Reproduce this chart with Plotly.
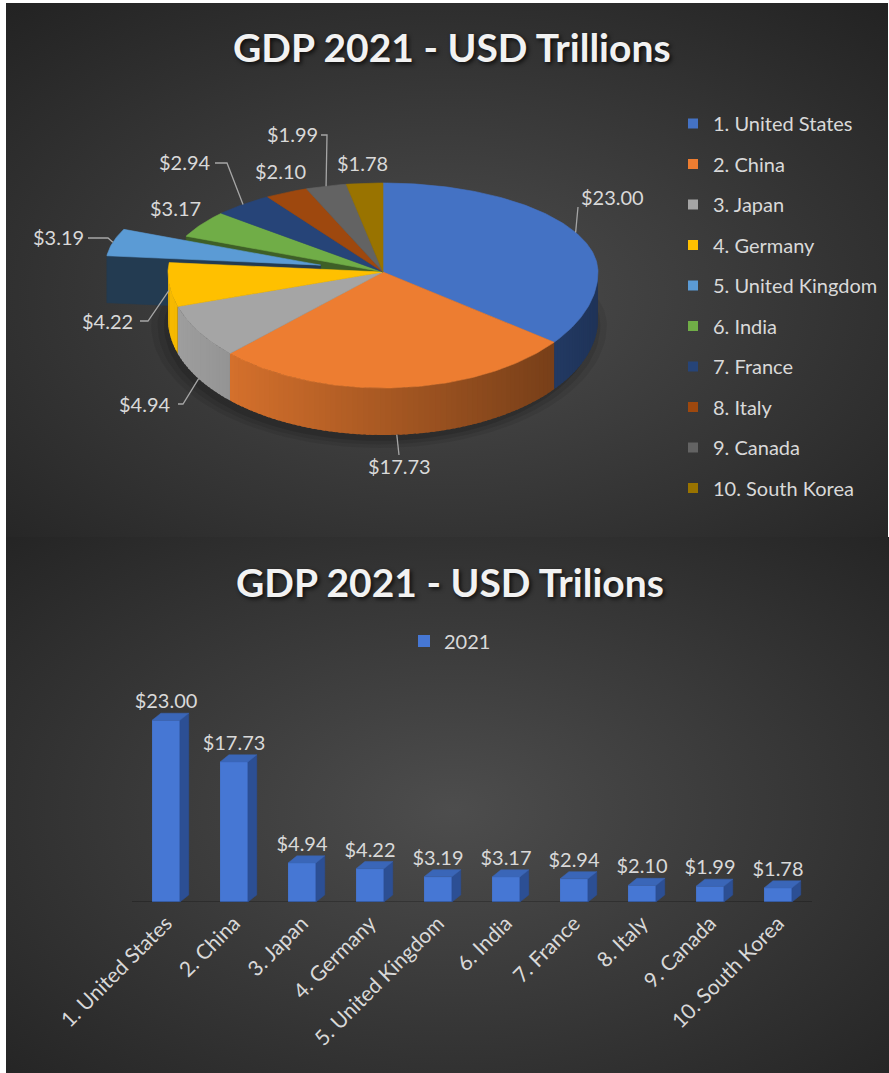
import base64
import numpy as np
import plotly.graph_objects as go

# ---------------- data ----------------
countries = [
    "1. United States", "2. China", "3. Japan", "4. Germany", "5. United Kingdom",
    "6. India", "7. France", "8. Italy", "9. Canada", "10. South Korea",
]
gdp_2021 = [23.00, 17.73, 4.94, 4.22, 3.19, 3.17, 2.94, 2.10, 1.99, 1.78]
series_name = "2021"
pie_title = "GDP 2021 - USD Trillions"
bar_title = "GDP 2021 - USD Trilions"

# ---------------- styling ----------------
slice_colors = ["#4472C4", "#ED7D31", "#A5A5A5", "#FFC000", "#5B9BD5",
                "#70AD47", "#264478", "#9E480E", "#636363", "#997300"]
slice_pull = [0, 0, 0, 0, 0.3, 0, 0, 0, 0, 0]

W, H = 889, 1073
FONT = "Lato, 'Open Sans', sans-serif"
LABEL_GRAY = "#d9d9d9"
TITLE_WHITE = "#f2f2f2"
LEADER_GRAY = "#a6a6a6"

# pie label placement (pixel space): label centre, leader start, elbow length, drop onto side wall
pie_label_xy = [(612, 197), (399, 466), (145, 404), (107, 321), (58, 237),
                (175, 208), (185, 162), (280, 171), (292, 134), (362, 163)]
pie_leader_start = [(578, 207), (399, 455), (178, 404), (140, 321), (88, 238),
                    None, (215, 163), None, (321, 135), None]
pie_leader_elbow = [0, 0, 5, 8, 20, 0, 12, 0, 6, 0]
pie_leader_drop = [0, 1, 1, 0.15, 0, 0, 0, 0, 0, 0]


def yp(py):
    return 1 - py / H


def shade(hex_color, f):
    h = hex_color.lstrip("#")
    r, g, b = (int(h[k:k + 2], 16) for k in (0, 2, 4))

    def c(v):
        return int(max(0, min(255, round(v * f))))
    return f"rgb({c(r)},{c(g)},{c(b)})"


def radial_bg(inner, outer, cy="50%"):
    svg = (
        '<svg xmlns="http://www.w3.org/2000/svg" width="100" height="100" '
        'viewBox="0 0 100 100" preserveAspectRatio="none">'
        f'<defs><radialGradient id="g" cx="50%" cy="{cy}" r="75%">'
        f'<stop offset="0" stop-color="{inner}"/>'
        f'<stop offset="1" stop-color="{outer}"/></radialGradient></defs>'
        '<rect width="100" height="100" fill="url(#g)"/></svg>'
    )
    return "data:image/svg+xml;base64," + base64.b64encode(svg.encode()).decode()


# ---------------- 3D pie geometry (pixel space) ----------------
CX, CY = 383, 272
RX, RY_BACK, RY_FRONT = 215, 89, 116
DEPTH = 47


def proj(theta, r=1.0):
    t = np.radians(np.asarray(theta, dtype=float))
    X = np.sin(t) * r
    Z = -np.cos(t) * r
    ry = np.where(Z < 0, RY_BACK, RY_FRONT)
    return CX + RX * X, CY + ry * Z


vals = np.array(gdp_2021, dtype=float)
total = vals.sum()
ends = 360 * np.cumsum(vals) / total
starts = ends - 360 * vals / total
mids = (starts + ends) / 2


def offset(i):
    if slice_pull[i] == 0:
        return 0.0, 0.0
    x, y = proj(mids[i], slice_pull[i])
    return float(x - CX), float(y - CY)


def arc(a0, a1, step=1.0):
    n = max(2, int(np.ceil(abs(a1 - a0) / step)) + 1)
    return np.linspace(a0, a1, n)


fig = go.Figure()


def poly(xs, ys, color, width=0.6):
    fig.add_trace(go.Scatter(
        x=list(xs), y=list(ys), mode="lines", fill="toself", fillcolor=color,
        line=dict(color=color, width=width), hoverinfo="skip", showlegend=False,
        xaxis="x", yaxis="y",
    ))


def top_face(i):
    dx, dy = offset(i)
    ax, ay = proj(arc(starts[i], ends[i]))
    xs = np.concatenate([[CX], ax, [CX]]) + dx
    ys = np.concatenate([[CY], ay, [CY]]) + dy
    poly(xs, ys, slice_colors[i])


def radial_face(i, a, f):
    dx, dy = offset(i)
    px, py = proj(a)
    px, py = float(px), float(py)
    xs = [CX + dx, px + dx, px + dx, CX + dx, CX + dx]
    ys = [CY + dy, py + dy, py + dy + DEPTH, CY + dy + DEPTH, CY + dy]
    poly(xs, ys, shade(slice_colors[i], f))


def side_strips(i):
    lo, hi = max(starts[i], 90.0), min(ends[i], 270.0)
    if hi <= lo:
        return
    dx, dy = offset(i)
    edges = arc(lo, hi, 1.5)
    for k, (a0, a1) in enumerate(zip(edges[:-1], edges[1:])):
        # each strip overlaps the next one slightly so no seams show
        a1x = min(a1 + 0.8, hi) if k < len(edges) - 2 else a1
        tx, ty = proj(np.linspace(a0, a1x, 3))
        xs = np.concatenate([tx, tx[::-1], tx[:1]]) + dx
        ys = np.concatenate([ty, ty[::-1] + DEPTH, ty[:1]]) + dy
        X = np.sin(np.radians((a0 + a1) / 2))
        f = 0.97 - 0.52 * (X + 1) / 2
        poly(xs, ys, shade(slice_colors[i], f), width=0)


def face_visible(normal_deg):
    return -np.cos(np.radians(normal_deg)) > 0


n = len(vals)
exploded = [i for i in range(n) if slice_pull[i] > 0]
solid = [i for i in range(n) if slice_pull[i] == 0]

# soft shadow under the pie
for k, a in [(1.06, 0.07), (1.03, 0.09), (1.0, 0.12)]:
    sx, sy = proj(arc(0, 360, 3))
    sx = CX + (sx - CX) * k - 4
    sy = CY + DEPTH + 6 + (sy - CY) * k
    poly(sx, sy, f"rgba(0,0,0,{a})", width=0)

# cut faces of the solid pie exposed by exploded slices
for i in solid:
    if (i - 1) % n in exploded and face_visible(starts[i] - 90):
        radial_face(i, starts[i], 0.55)
    if (i + 1) % n in exploded and face_visible(ends[i] + 90):
        radial_face(i, ends[i], 0.55)

# exploded slices
for i in exploded:
    if face_visible(starts[i] - 90):
        radial_face(i, starts[i], 0.38)
    if face_visible(ends[i] + 90):
        radial_face(i, ends[i], 0.38)
    side_strips(i)
    top_face(i)

# outer wall of the solid pie, then its top faces
for i in solid:
    side_strips(i)
for i in solid:
    top_face(i)

# leader lines and value labels
annotations = []
for i in range(n):
    lx, ly = pie_label_xy[i]
    annotations.append(dict(
        x=lx, y=ly, xref="x", yref="y", showarrow=False,
        text=f"${gdp_2021[i]:.2f}",
        font=dict(family=FONT, size=20, color=LABEL_GRAY),
    ))
    start = pie_leader_start[i]
    if start is None:
        continue
    dx, dy = offset(i)
    ex, ey = proj(mids[i])
    ex, ey = float(ex) + dx, float(ey) + dy + DEPTH * pie_leader_drop[i]
    xs, ys = [start[0]], [start[1]]
    if pie_leader_elbow[i]:
        xs.append(start[0] + pie_leader_elbow[i] * np.sign(ex - start[0]))
        ys.append(start[1])
    xs.append(ex)
    ys.append(ey)
    fig.add_trace(go.Scatter(
        x=xs, y=ys, mode="lines", line=dict(color=LEADER_GRAY, width=1.3),
        hoverinfo="skip", showlegend=False, xaxis="x", yaxis="y",
    ))

# pie legend entries
for i in range(n):
    fig.add_trace(go.Scatter(
        x=[None], y=[None], mode="markers", name=countries[i],
        marker=dict(symbol="square", size=10, color=slice_colors[i]),
        legend="legend", legendgroup=countries[i], xaxis="x", yaxis="y",
    ))

# ---------------- 3D column chart ----------------
BAR_W = 0.41
SIDE_DX = 0.13
SIDE_DY = 0.9
bar_front = "#4677d4"
bar_side = "#2c4f94"
bar_top = "#3a66b8"
xpos = list(range(n))

fig.add_trace(go.Scatter(
    x=[-0.62, n - 0.38], y=[-0.25, -0.25], mode="lines",
    line=dict(color="rgba(0,0,0,0.45)", width=5),
    hoverinfo="skip", showlegend=False, xaxis="x2", yaxis="y2",
))
fig.add_trace(go.Bar(
    x=xpos, y=gdp_2021, width=BAR_W, name=series_name,
    marker=dict(color=bar_front, line=dict(width=0)),
    legend="legend2", xaxis="x2", yaxis="y2", hoverinfo="skip",
))
for x, v in zip(xpos, gdp_2021):
    r = x + BAR_W / 2
    l = x - BAR_W / 2
    fig.add_trace(go.Scatter(
        x=[r, r + SIDE_DX, r + SIDE_DX, r, r], y=[0, SIDE_DY, v + SIDE_DY, v, 0],
        mode="lines", fill="toself", fillcolor=bar_side, line=dict(color=bar_side, width=0.5),
        hoverinfo="skip", showlegend=False, xaxis="x2", yaxis="y2",
    ))
    fig.add_trace(go.Scatter(
        x=[l, r, r + SIDE_DX, l + SIDE_DX, l], y=[v, v, v + SIDE_DY, v + SIDE_DY, v],
        mode="lines", fill="toself", fillcolor=bar_top, line=dict(color=bar_top, width=0.5),
        hoverinfo="skip", showlegend=False, xaxis="x2", yaxis="y2",
    ))
fig.add_trace(go.Scatter(
    x=xpos, y=[v + SIDE_DY for v in gdp_2021], mode="text",
    text=[f"${v:.2f}" for v in gdp_2021], textposition="top center",
    textfont=dict(family=FONT, size=20, color=LABEL_GRAY),
    cliponaxis=False, hoverinfo="skip", showlegend=False, xaxis="x2", yaxis="y2",
))

# ---------------- titles ----------------
title_font = dict(family=FONT, size=39, color=TITLE_WHITE, weight="bold",
                  shadow="2px 2px 4px rgba(0,0,0,0.75)")
annotations.append(dict(x=452 / W, y=yp(47), xref="paper", yref="paper", showarrow=False,
                        text=pie_title, font=title_font, xanchor="center", yanchor="middle"))
annotations.append(dict(x=450 / W, y=yp(582), xref="paper", yref="paper", showarrow=False,
                        text=bar_title, font=title_font, xanchor="center", yanchor="middle"))

BASE_PX = 902
PX_PER_UNIT = 7.9
Y2_MAX = 30

# white page border around the two dark panels
border_shapes = [
    dict(type="rect", xref="paper", yref="paper", x0=0, x1=6 / W, y0=0, y1=1,
         fillcolor="white", line=dict(width=0), layer="below"),
    dict(type="rect", xref="paper", yref="paper", x0=0, x1=1, y0=yp(3), y1=1,
         fillcolor="white", line=dict(width=0), layer="below"),
    dict(type="rect", xref="paper", yref="paper", x0=888 / W, x1=1, y0=yp(537), y1=1,
         fillcolor="white", line=dict(width=0), layer="below"),
]

fig.update_layout(
    width=W, height=H, template="none",
    margin=dict(l=0, r=0, t=0, b=0, pad=0),
    paper_bgcolor="#262626", plot_bgcolor="rgba(0,0,0,0)",
    showlegend=True,
    xaxis=dict(domain=[0, 1], range=[0, W], visible=False, fixedrange=True),
    yaxis=dict(domain=[0, 1], range=[H, 0], visible=False, fixedrange=True),
    xaxis2=dict(
        domain=[132 / W, 812 / W], range=[-0.5, n - 0.5], anchor="y2",
        tickmode="array", tickvals=xpos, ticktext=countries, tickangle=-45,
        showgrid=False, zeroline=False, showline=False, ticks="",
        ticklabelstandoff=4,
        tickfont=dict(family=FONT, size=21, color=LABEL_GRAY), fixedrange=True,
    ),
    yaxis2=dict(
        domain=[yp(BASE_PX), yp(BASE_PX - Y2_MAX * PX_PER_UNIT)], range=[0, Y2_MAX],
        anchor="x2", visible=False, fixedrange=True,
    ),
    legend=dict(
        x=673 / W, y=yp(104), xanchor="left", yanchor="top",
        bgcolor="rgba(0,0,0,0)", traceorder="grouped", tracegroupgap=11.5,
        itemwidth=30, font=dict(family=FONT, size=20, color=LABEL_GRAY),
    ),
    legend2=dict(
        x=404 / W, y=yp(641), xanchor="left", yanchor="middle", orientation="h",
        bgcolor="rgba(0,0,0,0)", itemwidth=30,
        font=dict(family=FONT, size=20, color=LABEL_GRAY),
    ),
    images=[
        dict(source=radial_bg("#4d4d4d", "#222222", "55%"), xref="paper", yref="paper",
             x=6 / W, y=yp(3), sizex=(888 - 6) / W, sizey=(537 - 3) / H,
             xanchor="left", yanchor="top", sizing="stretch", layer="below"),
        dict(source=radial_bg("#4d4d4d", "#222222", "50%"), xref="paper", yref="paper",
             x=6 / W, y=yp(537), sizex=(900 - 6) / W, sizey=(H + 10 - 537) / H,
             xanchor="left", yanchor="top", sizing="stretch", layer="below"),
    ],
    shapes=border_shapes,
    annotations=annotations,
)

fig.write_html("out.html")
